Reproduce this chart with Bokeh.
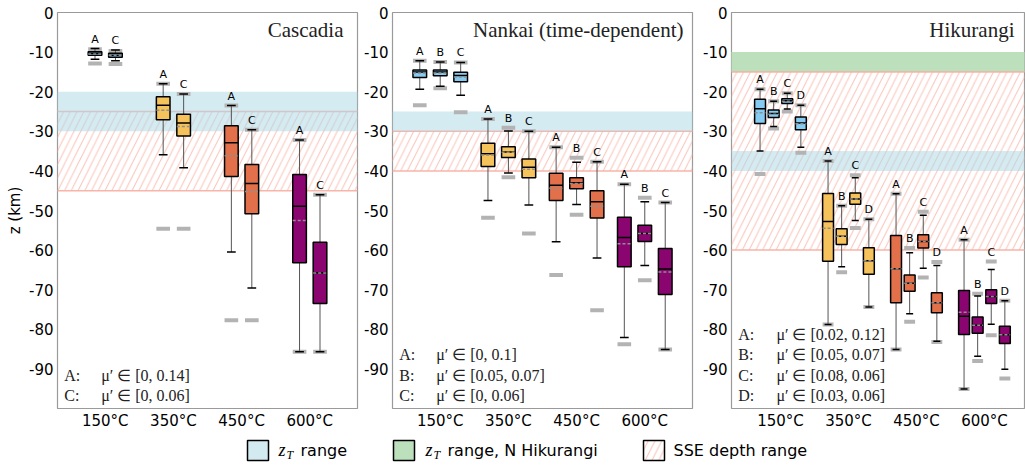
from bokeh.plotting import figure
from bokeh.models import Range1d, FixedTicker
from bokeh.layouts import row, column
from bokeh.core.properties import value
from bokeh.embed import file_html
from bokeh.resources import INLINE

TEMP_LABELS = ["150°C", "350°C", "450°C", "600°C"]
TEMP_COLORS = ["#86cbf2", "#f5c25c", "#e1704b", "#8a0570"]
Y_TICKS = [0, -10, -20, -30, -40, -50, -60, -70, -80, -90]

# ---------------- Cascadia (order: per temperature, cases A, C) ----------------
cas_cases = ["A", "C"]
cas_whi  = [-9.1, -9.5, -18.0, -20.6, -23.5, -29.6, -32.2, -46.0]
cas_q3   = [-9.9, -10.3, -21.3, -25.7, -28.6, -38.4, -40.9, -58.0]
cas_med  = [-10.3, -10.8, -23.4, -27.9, -32.9, -43.2, -48.9, -65.7]
cas_mean = [-10.5, -10.8, -24.7, -28.8, -36.2, -45.2, -52.5, -65.8]
cas_q1   = [-10.8, -11.3, -27.1, -31.2, -41.4, -50.8, -63.2, -73.5]
cas_wlo  = [-11.8, -12.2, -35.9, -39.2, -60.5, -69.6, -85.7, -85.7]
cas_ghi  = [-9.3, -9.7, -18.0, -20.6, -23.5, -29.6, -32.2, -46.0]
cas_glo  = [-12.9, -13.0, -54.6, -54.6, -77.7, -77.7, -85.7, -85.7]
cas_zt   = (-20, -30)
cas_sse  = (-25, -45)
cas_mu   = ["μ′ ∈ [0, 0.14]", "μ′ ∈ [0, 0.06]"]

# ---------------- Nankai (cases A, B, C) ----------------
nan_cases = ["A", "B", "C"]
nan_whi  = [-12.2, -12.5, -12.6, -26.9, -29.9, -30.0, -34.0, -37.8, -37.7, -43.4, -47.8, -48.0]
nan_q3   = [-14.5, -14.5, -15.1, -33.0, -33.9, -37.0, -40.6, -41.7, -45.0, -51.7, -53.7, -59.6]
nan_med  = [-15.0, -15.0, -15.9, -35.7, -35.2, -39.1, -43.6, -43.0, -47.8, -56.8, -55.8, -64.8]
nan_mean = [-15.3, -15.3, -16.3, -36.0, -35.3, -39.6, -44.4, -43.2, -48.9, -58.4, -55.8, -65.5]
nan_q1   = [-16.4, -16.0, -17.5, -38.9, -36.6, -41.7, -47.5, -44.5, -51.9, -64.2, -57.8, -71.2]
nan_wlo  = [-19.4, -18.6, -20.9, -47.5, -40.5, -48.6, -57.9, -48.5, -62.0, -82.1, -63.9, -85.1]
nan_ghi  = [-12.2, -12.5, -12.6, -26.9, -29.1, -30.0, -34.0, -36.7, -37.7, -43.4, -46.8, -48.0]
nan_glo  = [-23.4, -19.1, -25.2, -51.8, -41.6, -55.8, -66.3, -51.1, -75.2, -83.8, -67.6, -85.1]
nan_zt   = (-25, -30)
nan_sse  = (-30, -40)
nan_mu   = ["μ′ ∈ [0, 0.1]", "μ′ ∈ [0.05, 0.07]", "μ′ ∈ [0, 0.06]"]

# ---------------- Hikurangi (cases A, B, C, D) ----------------
hik_cases = ["A", "B", "C", "D"]
hik_whi  = [-19.4, -22.4, -20.4, -23.4, -37.5, -48.8, -41.7, -52.2,
            -45.8, -60.7, -51.2, -63.9, -57.4, -71.6, -64.9, -72.8]
hik_q3   = [-21.9, -24.6, -21.8, -26.4, -45.7, -54.6, -45.6, -59.4,
            -56.3, -66.3, -56.1, -70.8, -70.2, -76.9, -70.0, -79.2]
hik_med  = [-24.3, -25.5, -22.3, -27.9, -52.8, -56.5, -47.1, -62.7,
            -64.7, -68.4, -57.8, -73.3, -76.7, -79.0, -71.7, -81.4]
hik_mean = [-25.3, -25.7, -22.4, -28.1, -54.5, -56.5, -47.1, -62.7,
            -64.7, -68.4, -57.8, -73.3, -75.7, -79.0, -71.7, -81.4]
hik_q1   = [-28.0, -26.5, -23.0, -29.6, -62.8, -58.6, -48.4, -66.1,
            -73.3, -70.4, -59.5, -75.8, -81.3, -81.0, -73.5, -83.6]
hik_wlo  = [-35.0, -28.8, -24.4, -34.0, -78.8, -64.2, -52.5, -74.4,
            -85.1, -76.1, -64.6, -83.0, -95.1, -86.8, -78.7, -90.1]
hik_ghi  = [-19.4, -22.4, -20.4, -23.4, -37.5, -48.8, -41.1, -52.2,
            -45.8, -59.5, -50.3, -63.0, -57.4, -71.0, -62.9, -72.8]
hik_glo  = [-40.8, -29.3, -25.0, -35.4, -78.8, -65.6, -54.4, -74.4,
            -85.1, -78.1, -66.9, -83.2, -95.1, -88.0, -81.5, -92.4]
hik_zt   = (-35, -40)
hik_ztn  = (-10, -15)
hik_sse  = (-15, -60)
hik_mu   = ["μ′ ∈ [0.02, 0.12]", "μ′ ∈ [0.05, 0.07]", "μ′ ∈ [0.08, 0.06]", "μ′ ∈ [0.03, 0.06]"]

SANS = value("DejaVu Sans")
SERIF = value("Liberation Serif")
HATCH_C = "#f8ada0"


def make_panel(width, bl, br, xr, title, title_x, cases, offsets, bw,
               whi, q3, med, mean, q1, wlo, ghi, glo, zt, sse, mu,
               ylabel=None, ztn=None):
    p = figure(width=width, height=432, x_range=Range1d(*xr), y_range=Range1d(-100, 0),
               toolbar_location=None, output_backend="svg",
               min_border_left=bl, min_border_right=br, min_border_top=12, min_border_bottom=23)
    p.grid.visible = False
    p.outline_line_color = "#9a9a9a"
    p.outline_line_width = 1.2
    p.background_fill_color = "white"
    x0, x1 = xr[0] - 1, xr[1] + 1
    # bands
    if ztn is not None:
        p.quad(left=[x0], right=[x1], top=[ztn[0]], bottom=[ztn[1]],
               fill_color="#bcdfbc", line_color=None)
    p.quad(left=[x0], right=[x1], top=[sse[0]], bottom=[sse[1]], fill_color=None,
           hatch_pattern="/", hatch_color=HATCH_C, hatch_scale=13.5, hatch_weight=1.0,
           hatch_alpha=0.75, line_color=HATCH_C, line_width=1.5, line_alpha=0.9)
    p.quad(left=[x0], right=[x1], top=[zt[0]], bottom=[zt[1]],
           fill_color="#add8e6", fill_alpha=0.52, line_color=None)

    n = len(cases)
    xs, lefts, rights, cl, cr, cols, labs, labtop = [], [], [], [], [], [], [], []
    for i in range(len(whi)):
        t = i // n
        c = i % n
        x = t + 1 + offsets[c]
        xs.append(x)
        lefts.append(x - bw / 2)
        rights.append(x + bw / 2)
        cl.append(x - bw * 0.32)
        cr.append(x + bw * 0.32)
        cols.append(TEMP_COLORS[t])
        labs.append(cases[c])
        labtop.append(max(whi[i], ghi[i]))
    # gray range markers
    p.segment(x0=lefts, x1=rights, y0=ghi, y1=ghi, line_color="#b3b3b3", line_width=4)
    p.segment(x0=lefts, x1=rights, y0=glo, y1=glo, line_color="#b3b3b3", line_width=4)
    # whiskers
    p.segment(x0=xs, x1=xs, y0=wlo, y1=whi, line_color="#555555", line_width=1)
    p.segment(x0=cl, x1=cr, y0=whi, y1=whi, line_color="black", line_width=1.5)
    p.segment(x0=cl, x1=cr, y0=wlo, y1=wlo, line_color="black", line_width=1.5)
    # boxes
    p.quad(left=lefts, right=rights, top=q3, bottom=q1, fill_color=cols,
           line_color="black", line_width=1.5)
    p.segment(x0=lefts, x1=rights, y0=med, y1=med, line_color="black", line_width=1.5)
    p.segment(x0=lefts, x1=rights, y0=mean, y1=mean, line_color="#8f8f8f",
              line_width=1.5, line_dash="3 2")
    # case labels
    p.text(x=xs, y=labtop, text=labs, text_align="center", text_baseline="bottom",
           y_offset=-3, text_font=SANS, text_font_size="11px", text_color="black")
    # title
    p.text(x=[title_x], y=[-4.4], text=[title], text_align="right", text_baseline="middle",
           text_font=SERIF, text_font_size="21px", text_color="#222222")
    # mu legend
    m = len(mu)
    ys = [-96.7 + (m - 1 - k) * 5.15 for k in range(m)]
    p.text(x=[xr[0] + 0.1] * m, y=ys, text=[cc + ":" for cc in cases],
           text_baseline="middle", text_font=SERIF, text_font_size="16px", text_color="#222222")
    p.text(x=[0.94] * m, y=ys, text=mu,
           text_baseline="middle", text_font=SERIF, text_font_size="16px", text_color="#222222")

    # axes
    p.xaxis.ticker = FixedTicker(ticks=[1, 2, 3, 4])
    p.xaxis.major_label_overrides = {i + 1: TEMP_LABELS[i] for i in range(4)}
    p.yaxis.ticker = FixedTicker(ticks=Y_TICKS)
    p.yaxis.major_label_overrides = {t: str(t) for t in Y_TICKS}
    for ax in (p.xaxis[0], p.yaxis[0]):
        ax.axis_line_color = None
        ax.major_tick_line_color = None
        ax.minor_tick_line_color = None
        ax.major_tick_out = 0
        ax.major_tick_in = 0
        ax.major_label_text_font = "DejaVu Sans"
        ax.major_label_text_font_size = "15px"
        ax.major_label_text_color = "black"
    p.xaxis.major_label_standoff = 3
    p.yaxis.major_label_standoff = 4
    if ylabel:
        p.yaxis.axis_label = ylabel
        p.yaxis.axis_label_text_font = "DejaVu Sans"
        p.yaxis.axis_label_text_font_size = "15px"
        p.yaxis.axis_label_text_font_style = "normal"
        p.yaxis.axis_label_standoff = 2
        p.yaxis.axis_label_text_color = "black"
    return p


p1 = make_panel(360, 57, 3, (0.3, 4.7), "Cascadia", 4.495, cas_cases, [-0.15, 0.15], 0.2,
                cas_whi, cas_q3, cas_med, cas_mean, cas_q1, cas_wlo, cas_ghi, cas_glo,
                cas_zt, cas_sse, cas_mu, ylabel="z (km)")
p2 = make_panel(334, 32, 2, (0.3, 4.7), "Nankai (time-dependent)", 4.568, nan_cases,
                [-0.3, 0.0, 0.3], 0.2,
                nan_whi, nan_q3, nan_med, nan_mean, nan_q1, nan_wlo, nan_ghi, nan_glo,
                nan_zt, nan_sse, nan_mu)
p3 = make_panel(331, 37, 1, (0.28, 4.589), "Hikurangi", 4.442, hik_cases,
                [-0.3, -0.1, 0.1, 0.3], 0.16,
                hik_whi, hik_q3, hik_med, hik_mean, hik_q1, hik_wlo, hik_ghi, hik_glo,
                hik_zt, hik_sse, hik_mu, ztn=hik_ztn)

# ---------------- legend strip ----------------
leg = figure(width=1025, height=35, x_range=Range1d(0, 1025), y_range=Range1d(35, 0),
             toolbar_location=None, output_backend="svg", min_border=0)
leg.axis.visible = False
leg.grid.visible = False
leg.outline_line_color = None
leg.quad(left=[247], right=[268], top=[8], bottom=[28], fill_color="#d4eaf1",
         line_color="black", line_width=1.5)
leg.quad(left=[393], right=[414], top=[8], bottom=[28], fill_color="#bcdfbc",
         line_color="black", line_width=1.5)
leg.quad(left=[643], right=[664], top=[8], bottom=[28], fill_color="white",
         hatch_pattern="/", hatch_color=HATCH_C, hatch_scale=13.5, hatch_weight=1.0,
         hatch_alpha=0.75, line_color="black", line_width=1.5)
leg.text(x=[278, 425], y=[17, 17], text=["z", "z"], text_baseline="middle",
         text_font=SERIF, text_font_style="italic", text_font_size="18px")
leg.text(x=[286, 433], y=[22, 22], text=["T", "T"], text_baseline="middle",
         text_font=SERIF, text_font_style="italic", text_font_size="12px")
leg.text(x=[300, 447, 673], y=[18, 18, 18], text=["range", "range, N Hikurangi", "SSE depth range"],
         text_baseline="middle", text_font=SANS, text_font_size="16px")

layout = column(row(p1, p2, p3, spacing=0), leg, spacing=0)
open("out.html", "w").write(file_html(layout, INLINE))
